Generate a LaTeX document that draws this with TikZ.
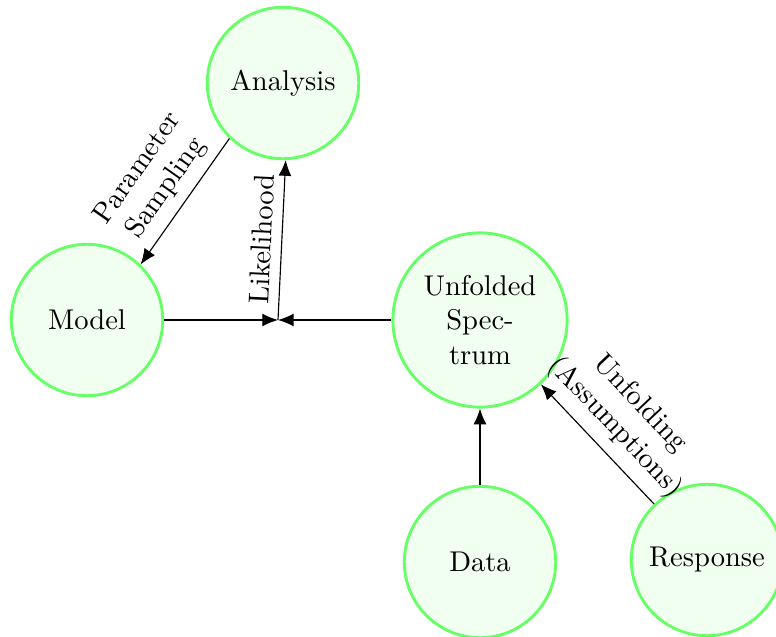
\documentclass[tikz,border=0pt]{standalone}
\usetikzlibrary{arrows.meta}
\tikzset{state/.style={circle, draw=green!60, fill=green!6, line width=1pt, minimum size=53pt, inner sep=1pt}}

\begin{document}
\begin{tikzpicture}[x=0.35pt, y=-0.35pt, >={Latex[length=5.5pt,width=4.5pt]}]
		%%%%% START %%%%%
		\useasboundingbox (0, 0) rectangle (776, 637);
		
		\node[state] (analysis) at (283, 83) {Analysis};
		\node[state] (model) at (87, 320) {Model};
		\node[state, minimum size=61pt, align=center] (spectrum) at (480, 320) {Unfolded\\Spec-\\trum};
		\node[state] (data) at (480, 562) {Data};
		\node[state] (response) at (707, 560) {Response};
		\coordinate (lik) at (278, 320);
		
		\draw[->] (model) -- (lik);
		\draw[->] (spectrum) -- (lik);
		\draw[->] (lik) -- node[sloped, above] {Likelihood} (analysis.272);
		\draw[->] (analysis.226) -- node[sloped, above, align=center] {Parameter\\Sampling} (model.46);
		
		\draw[->] (data) -- (spectrum);
		\draw[->] (response) -- node[sloped, above, align=center] {Unfolding\\(Assumptions)} (spectrum);
		
		%%%%% END %%%%%
	\end{tikzpicture}
\end{document}
